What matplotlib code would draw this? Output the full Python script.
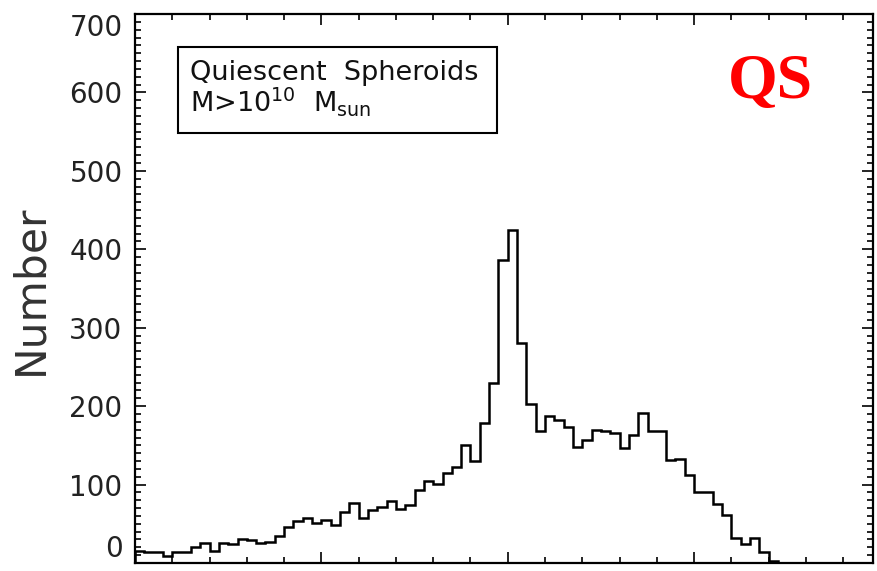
import numpy as np
import matplotlib
matplotlib.use("Agg")
import matplotlib.pyplot as plt
from matplotlib.patches import Rectangle
from matplotlib.ticker import MultipleLocator

plt.rcParams["font.family"] = ["DejaVu Sans"]
plt.rcParams["mathtext.default"] = "regular"

# histogram counts, one per bin (bin width 0.05)
BIN_START = 0.0
BIN_WIDTH = 0.05
COUNTS = [15, 14, 14, 9, 14, 14, 20, 25, 15, 26,
          24, 31, 29, 25, 27, 35, 46, 54, 57, 51,
          55, 48, 65, 76, 58, 67, 71, 79, 69, 74,
          93, 105, 101, 115, 122, 151, 130, 178, 229, 386,
          425, 280, 203, 168, 188, 182, 174, 148, 157, 170,
          168, 166, 146, 163, 191, 168, 168, 131, 133, 112,
          90, 90, 75, 61, 32, 24, 32, 14, 2]
XLIM = (0.0, 3.96)
YLIM = (0, 700)
YTICKS = [0, 100, 200, 300, 400, 500, 600, 700]

LABEL_1 = "Quiescent  Spheroids"
LABEL_2 = r"M>10$^{10}$  M$_{sun}$"
TAG = "QS"

edges = BIN_START + BIN_WIDTH * np.arange(len(COUNTS) + 1)

fig = plt.figure(figsize=(8.77, 5.71), dpi=100)
ax = fig.add_axes([135 / 877, 8 / 571, 738 / 877, 549 / 571])

ax.stairs(COUNTS, edges, color="black", lw=1.8, baseline=0)

ax.set_xlim(*XLIM)
ax.set_ylim(*YLIM)
ax.set_yticks(YTICKS)
ax.xaxis.set_major_locator(MultipleLocator(1.0))
ax.xaxis.set_minor_locator(MultipleLocator(0.2))
ax.yaxis.set_minor_locator(MultipleLocator(10))
ax.tick_params(which="both", direction="in", top=True, right=True,
               labelbottom=False, width=1.2, color="black")
ax.tick_params(which="major", length=8)
ax.tick_params(which="minor", length=4)
ax.tick_params(axis="y", labelsize=20, pad=9, labelcolor="#222222")
for s in ax.spines.values():
    s.set_linewidth(1.6)

labels = ax.get_yticklabels()
labels[0].set_va("bottom")
labels[-1].set_va("top")

fig.text(30 / 877, 1 - 290 / 571, "Number", rotation=90, fontsize=30.5,
         color="#333333", ha="center", va="center")

# label box
ax.add_patch(Rectangle((0.058, 0.783), 0.433, 0.157, transform=ax.transAxes,
                       fill=False, lw=1.5, edgecolor="black"))
ax.text(0.075, 0.893, LABEL_1, transform=ax.transAxes, fontsize=19.5,
        ha="left", va="center", color="#111111")
ax.text(0.075, 0.840, LABEL_2, transform=ax.transAxes, fontsize=19.5,
        ha="left", va="center", color="#111111")

ax.text(0.861, 0.874, TAG, transform=ax.transAxes, fontsize=46,
        fontweight="bold", color="red", ha="center", va="center",
        family=["Liberation Serif", "DejaVu Serif"])

fig.savefig("out.png", dpi=100)
